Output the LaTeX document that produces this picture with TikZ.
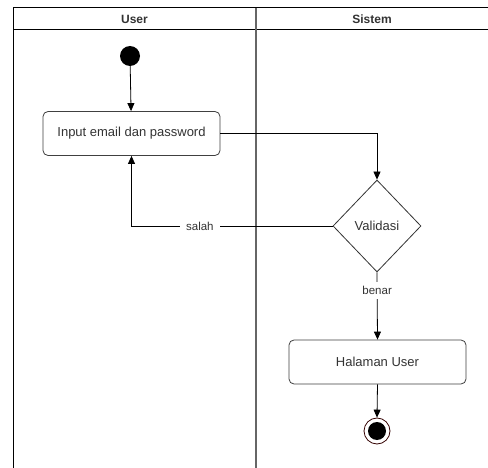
\documentclass[tikz,border=0pt]{standalone}
\usepackage{fontspec}
\setmainfont{Liberation Sans}
\usetikzlibrary{shapes.geometric,arrows.meta}
\begin{document}
\begin{tikzpicture}[x=1pt,y=-1pt,
  lane/.style={line width=1pt},
  act/.style={draw=black!75,rounded corners=5pt,line width=0.8pt,minimum width=177pt,minimum height=44pt,font=\fontsize{13}{15}\selectfont,text=black!80},
  dec/.style={draw=black!80,diamond,line width=0.8pt,minimum width=88pt,minimum height=92pt,inner sep=0pt,font=\fontsize{13}{15}\selectfont,text=black!80,aspect=0.96},
  flow/.style={line width=0.8pt,-{Triangle[length=8pt,width=7pt]}},
  lbl/.style={fill=white,font=\fontsize{11.5}{13}\selectfont,text=black!80,inner xsep=6pt,inner ysep=4pt}]
\useasboundingbox (0,0) rectangle (488,468);
\fill[white] (0,0) rectangle (488,468);
% swimlanes
\draw[lane] (13,468) -- (13,8) -- (488,8);
\draw[lane] (13,30) -- (488,30);
\draw[line width=1.2pt,black!60] (256,8) -- (256,468);
\node[font=\bfseries\fontsize{12}{14}\selectfont,text=black!80] (hu) at (134.5,19) {User};
\node[font=\bfseries\fontsize{12}{14}\selectfont,text=black!80] (hs) at (372,19) {Sistem};
% nodes
\node[circle,fill=black,minimum size=20pt,inner sep=0pt] (start) at (130,56) {};
\node[act] (input) at (131.5,133.5) {Input email dan password};
\node[dec] (val) at (377,226) {Validasi};
\node[act] (hal) at (377.5,362) {Halaman User};
\node[circle,draw=black!50!red!40!black,line width=0.8pt,minimum size=26pt,inner sep=0pt] (end) at (377,431) {};
\node[circle,fill=black,minimum size=18pt,inner sep=0pt] (endin) at (end.center) {};
% connectors
\draw[flow] (start) -- (input);
\draw[flow] (input.east) -| (val.north);
\draw[flow] (val.west) -| node[lbl,pos=0.33] {salah} (input.south);
\draw[flow] (val.south) -- node[lbl,pos=0.27] {benar} (hal.north);
\draw[flow] (hal.south) -- (end.north);
\end{tikzpicture}
\end{document}
